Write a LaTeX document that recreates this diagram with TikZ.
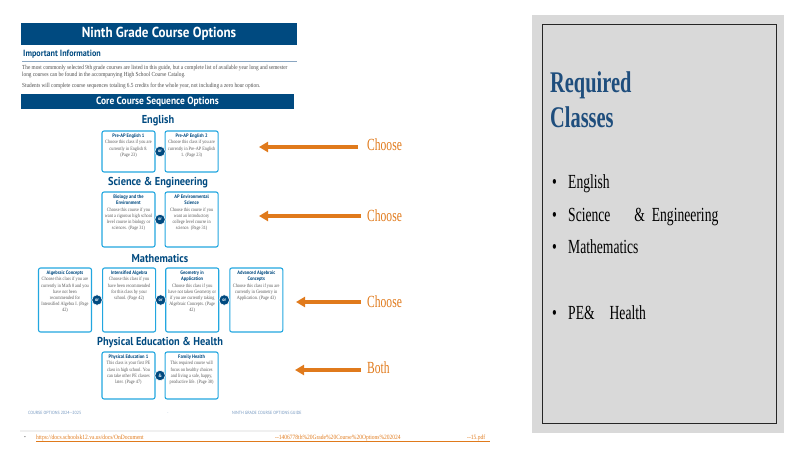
\documentclass[tikz,border=0pt]{standalone}
\usepackage{fontspec}
\setmainfont{Liberation Serif}
\newfontfamily\docsans[FakeStretch=0.9]{PT Sans}
\newfontfamily\docserif[FakeStretch=0.85]{Liberation Serif}
\newfontfamily\slideserif[FakeStretch=0.68]{Liberation Serif}
\usetikzlibrary{arrows.meta,positioning,calc}

\definecolor{docblue}{HTML}{004A80}
\definecolor{boxcyan}{HTML}{22A7E0}
\definecolor{arrorange}{HTML}{E07A1C}
\definecolor{panelgray}{HTML}{D9D9D9}
\definecolor{reqblue}{HTML}{1F4E7D}
\definecolor{rulesteel}{HTML}{8AA6C1}
\definecolor{footblue}{HTML}{6F93BD}

% box text: height of box, bold title, body
\newcommand{\coursetext}[3]{\parbox[c][#1][t]{48pt}{\centering{\docsans\bfseries\color{docblue}#2\par}\vspace{0.6pt}#3}}

\begin{document}
\begin{tikzpicture}[
  x=1pt,y=-1pt,
  bar/.style={fill=docblue,text=white,inner sep=0pt,font=\docsans\bfseries},
  heading/.style={text=docblue,inner sep=0pt,font=\docsans\bfseries\fontsize{11.5}{11.5}\selectfont},
  course/.style={draw=boxcyan,line width=1.1pt,rounded corners=2pt,fill=white,inner sep=2.5pt,
    font=\docserif\fontsize{5}{6.2}\selectfont,text=gray!70!black},
  orcirc/.style={circle,fill=docblue,draw=white,line width=0.6pt,text=white,inner sep=0pt,
    minimum size=10.5pt,font=\docsans\bfseries\fontsize{4.8}{4.8}\selectfont},
  small/.style={inner sep=0pt,anchor=base west,text=gray!60!black,font=\docserif\fontsize{6.2}{6.2}\selectfont},
  link/.style={inner sep=0pt,anchor=base west,text=arrorange,font=\docserif\fontsize{6.5}{6.5}\selectfont},
  foot/.style={inner sep=0pt,text=footblue,font=\docsans\fontsize{4.5}{4.5}\selectfont},
  arr/.style={draw=arrorange,line width=3.5pt,-{Triangle[length=9pt,width=10pt]}},
  choice/.style={text=arrorange,anchor=west,inner sep=0pt,font=\slideserif\fontsize{17}{17}\selectfont},
  item/.style={anchor=base west,inner sep=0pt,font=\slideserif\fontsize{20}{20}\selectfont}
]
\useasboundingbox (0,0) rectangle (800,450);

% the course sheet
\node[bar,minimum width=276pt,minimum height=22pt] (title) at (159,34)
  {\fontsize{14.5}{14.5}\selectfont Ninth Grade Course Options};
\node[inner sep=0pt,anchor=west,text=docblue,font=\docsans\bfseries\fontsize{9}{9}\selectfont]
  (info) at (23,54) {Important Information};
\draw[rulesteel,line width=0.8pt] (22,61) -- (297,61);
\node[small] (line1) at (22,69) {The most commonly selected 9th grade courses are listed in this guide, but a complete list of available year long and semester};
\node[small] (line2) at (22,76) {long courses can be found in the accompanying High School Course Catalog.};
\node[small] (line3) at (22,87) {Students will complete course sequences totaling 6.5 credits for the whole year, not including a zero hour option.};
\node[bar,minimum width=273pt,minimum height=15pt] (core) at (157.5,101.5)
  {\fontsize{10.5}{10.5}\selectfont Core Course Sequence Options};

\node[heading] (hEng) at (158,121) {English};
\node[course] (preap1) at (128.5,151.5) {\coursetext{36pt}{Pre-AP English 1}{Choose this class if you are currently in English 8. (Page 23)}};
\node[course,right=9pt of preap1] (preap2) {\coursetext{36pt}{Pre-AP English 2}{Choose this class if you are currently in Pre-AP English 1. (Page 23)}};
\node[orcirc] (orEng) at ($(preap1)!0.5!(preap2)$) {or};

\node[heading] (hSci) at (158,183) {Science \& Engineering};
\node[course] (bio) at (128.5,219.5) {\coursetext{50pt}{Biology and the\\Environment}{Choose this course if you want a rigorous high school level course in biology or sciences. (Page 31)}};
\node[course,right=9pt of bio] (apenv) {\coursetext{50pt}{AP Environmental\\Science}{Choose this course if you want an introductory college level course in science. (Page 31)}};
\node[orcirc] (orSci) at ($(bio)!0.5!(apenv)$) {or};

\node[heading] (hMath) at (160,258) {Mathematics};
\node[course] (algc) at (65,300) {\coursetext{59pt}{Algebraic Concepts}{Choose this class if you are currently in Math 8 and you have not been recommended for Intensified Algebra I. (Page 42)}};
\node[course,right=10pt of algc] (intalg) {\coursetext{59pt}{Intensified Algebra}{Choose this class if you have been recommended for this class by your school. (Page 42)}};
\node[course,right=9pt of intalg] (geom) {\coursetext{59pt}{Geometry in\\Application}{Choose this class if you have not taken Geometry or if you are currently taking Algebraic Concepts. (Page 42)}};
\node[course,right=10pt of geom] (advalg) {\coursetext{59pt}{Advanced Algebraic\\Concepts}{Choose this class if you are currently in Geometry in Application. (Page 43)}};
\node[orcirc] (orM1) at ($(algc)!0.5!(intalg)$) {or};
\node[orcirc] (orM2) at ($(intalg)!0.5!(geom)$) {or};
\node[orcirc] (orM3) at ($(geom)!0.5!(advalg)$) {or};

\node[heading] (hPE) at (160,343) {Physical Education \& Health};
\node[course] (pe1) at (128.5,375.5) {\coursetext{42pt}{Physical Education 1}{This class is your first PE class in high school. You can take other PE classes later. (Page 47)}};
\node[course,right=9pt of pe1] (health) {\coursetext{42pt}{Family Health}{This required course will focus on healthy choices and living a safe, happy, productive life. (Page 38)}};
\node[orcirc] (andPE) at ($(pe1)!0.5!(health)$) {\&};

% sheet footer and link
\node[foot,anchor=west] (footL) at (28,413) {COURSE OPTIONS 2024--2025};
\node[foot] (footM) at (168,413) {$\cdot$};
\node[foot,anchor=west] (footR) at (232,413) {NINTH GRADE COURSE OPTIONS GUIDE};
\draw[gray!12,line width=1.2pt] (20,431) -- (290,431);
\node[inner sep=0pt,font=\fontsize{4}{4}\selectfont] (linkdot) at (25,438) {\textbullet};
\node[link] (linkA) at (36,439) {https://docs.schoolsk12.va.us/docs/OnDocument};
\node[link] (linkB) at (275,439) {--1406778th\%20Grade\%20Course\%20Options\%202024};
\node[link] (linkC) at (467,439) {--15.pdf};
\draw[arrorange,line width=0.7pt] (36,441.5) -- (490,441.5);

% arrows pointing at the sheet
\coordinate (tipE) at (259,147);
\coordinate (tipS) at (259,216);
\coordinate (tipM) at (296,302);
\coordinate (tipP) at (295,370);
\node[choice] (chE) at (367,145) {Choose};
\node[choice] (chS) at (367,216) {Choose};
\node[choice] (chM) at (367,302) {Choose};
\node[choice] (chP) at (367,368) {Both};
\draw[arr] ([xshift=-9pt]chE.west |- tipE) -- (tipE);
\draw[arr] ([xshift=-6pt]chS.west |- tipS) -- (tipS);
\draw[arr] ([xshift=-6pt]chM.west |- tipM) -- (tipM);
\draw[arr] ([xshift=-6pt]chP.west |- tipP) -- (tipP);

% side panel
\fill[panelgray] (532,15) rectangle (784,433);
\draw[gray!30!black,line width=0.8pt] (542,24) rectangle (776,423);
\node[anchor=north west,inner sep=0pt,align=left,text=reqblue,font=\slideserif\bfseries\fontsize{30}{35}\selectfont]
  (req) at (550,71) {Required\\Classes};
\node[item] (bE) at (552,188) {\textbullet};
\node[item] (iE) at (568,188) {English};
\node[item] (bS) at (552,221) {\textbullet};
\node[item] (iS) at (568,221) {Science\hspace{24pt}\& \ Engineering};
\node[item] (bM) at (552,253) {\textbullet};
\node[item] (iM) at (568,253) {Mathematics};
\node[item] (bP) at (552,319) {\textbullet};
\node[item] (iP) at (568,319) {PE\&\hspace{15pt}Health};
\end{tikzpicture}
\end{document}
